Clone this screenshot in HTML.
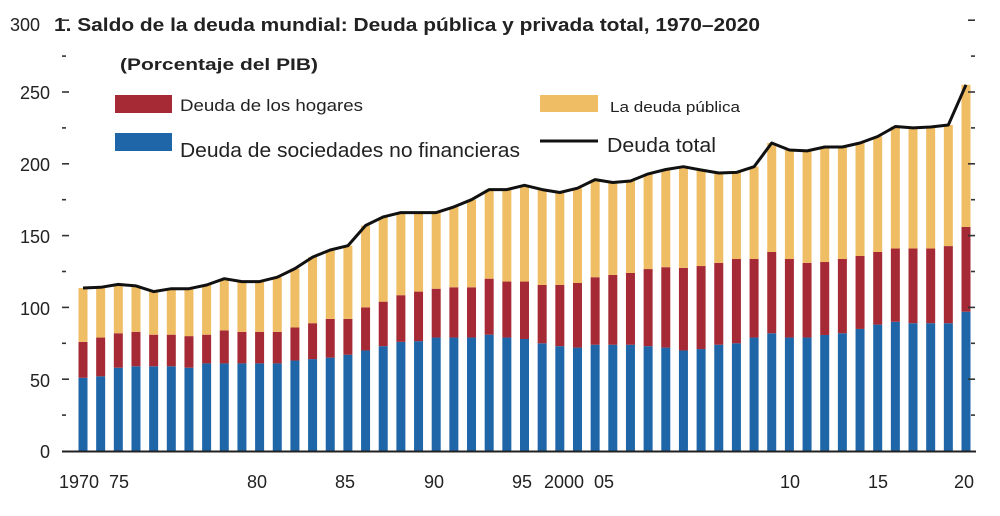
<!DOCTYPE html>
<html><head><meta charset="utf-8">
<style>
html,body{margin:0;padding:0;background:#fff;}
svg{display:block;font-family:"Liberation Sans",Arial,sans-serif;}
</style></head>
<body>
<svg id="c" width="1000" height="516" viewBox="0 0 1000 516" xmlns="http://www.w3.org/2000/svg">
<g id="bars"></g>
<g id="ticks" stroke="#333" stroke-width="1.6"></g>
<line x1="62" y1="451.5" x2="976" y2="451.5" stroke="#222" stroke-width="2"/>
<polyline id="tot" fill="none" stroke="#111" stroke-width="3" stroke-linejoin="round"/>
<g font-size="18" fill="#222" text-anchor="end">
<text x="50" y="458">0</text>
<text x="50" y="387">50</text>
<text x="50" y="315">100</text>
<text x="50" y="243">150</text>
<text x="50" y="171">200</text>
<text x="50" y="99">250</text>
</g>
<text x="10" y="31" font-size="18" fill="#222">300</text>
<text x="54" y="31" font-size="18" font-weight="bold" fill="#222" textLength="706" lengthAdjust="spacingAndGlyphs">1. Saldo de la deuda mundial: Deuda pública y privada total, 1970–2020</text>
<text x="120" y="70" font-size="17" font-weight="bold" fill="#222" textLength="198" lengthAdjust="spacingAndGlyphs">(Porcentaje del PIB)</text>
<rect x="115" y="95" width="57" height="18" fill="#a52a36"/>
<text x="180" y="111" font-size="17" fill="#222" textLength="183" lengthAdjust="spacingAndGlyphs">Deuda de los hogares</text>
<rect x="115" y="133" width="57" height="18" fill="#1f66a8"/>
<text x="180" y="157" font-size="20" fill="#222" textLength="340" lengthAdjust="spacingAndGlyphs">Deuda de sociedades no financieras</text>
<rect x="540" y="95" width="58" height="17" fill="#efbd63"/>
<text x="610" y="112" font-size="15" fill="#222" textLength="130" lengthAdjust="spacingAndGlyphs">La deuda pública</text>
<line x1="540" y1="141" x2="598" y2="141" stroke="#111" stroke-width="3"/>
<text x="607" y="152" font-size="20" fill="#222" textLength="109" lengthAdjust="spacingAndGlyphs">Deuda total</text>
<g font-size="18" fill="#222" text-anchor="middle">
<text x="79" y="488">1970</text>
<text x="119" y="488">75</text>
<text x="257" y="488">80</text>
<text x="345" y="488">85</text>
<text x="434" y="488">90</text>
<text x="522" y="488">95</text>
<text x="564" y="488">2000</text>
<text x="604" y="488">05</text>
<text x="790" y="488">10</text>
<text x="878" y="488">15</text>
<text x="964" y="488">20</text>
</g>
</svg>
<script>
var d=[[51,76,113.5],[52,79,114],[58,82,116],[59,83,115],[59,81,111],[59,81,113],[58,80,113],[61,81,115.6],[61,84,120],[61,83,118],[61,83,118],[61,83,121],[63,86,127],[64,89,135],[65,92,140],[67,92,143],[70,100,157],[73,104,163],[76,108.5,166],[76.5,111,166],[79,113,166],[79,114,170],[79,114,175],[81,120,182],[79,118,182],[78,118,185],[75,115.6,182],[73,115.6,180],[72,117,183],[74,121,189],[74,122.6,187],[74,124,188],[73,126.7,193],[72,128,196],[70,127.5,198],[71,128.8,195.7],[74,131,193.6],[75,133.7,194],[79,133.7,198],[82,138.6,214.5],[79,133.7,209.6],[79,131,209],[80.8,131.6,211.7],[82,133.7,211.7],[85,135.8,214.5],[88,138.6,219],[90,141,226],[89,141,225],[89,141,225.6],[89,142.7,227],[97,156,255]];
var ns="http://www.w3.org/2000/svg",g=document.getElementById("bars"),Y=function(v){return 451-v*1.436;};
function r(x,y1,y2,c){var e=document.createElementNS(ns,"rect");e.setAttribute("x",x);e.setAttribute("y",y2);e.setAttribute("width",9);e.setAttribute("height",y1-y2);e.setAttribute("fill",c);g.appendChild(e);}
var pts=[];
d.forEach(function(b,i){var cx=83+i*17.66,x=cx-4.5;
r(x,451,Y(b[0]),"#1f66a8");r(x,Y(b[0]),Y(b[1]),"#a52a36");r(x,Y(b[1]),Y(b[2]),"#efbd63");pts.push(cx.toFixed(1)+","+Y(b[2]).toFixed(1));});
document.getElementById("tot").setAttribute("points",pts.join(" "));
var t=document.getElementById("ticks");
for(var v=25;v<=300;v+=25){var y=Y(v),L=(v%50==0)?7:4;
[[62,62+L],[975-L,975]].forEach(function(p){var l=document.createElementNS(ns,"line");l.setAttribute("x1",p[0]);l.setAttribute("x2",p[1]);l.setAttribute("y1",y);l.setAttribute("y2",y);t.appendChild(l);});}
</script>
</body></html>
